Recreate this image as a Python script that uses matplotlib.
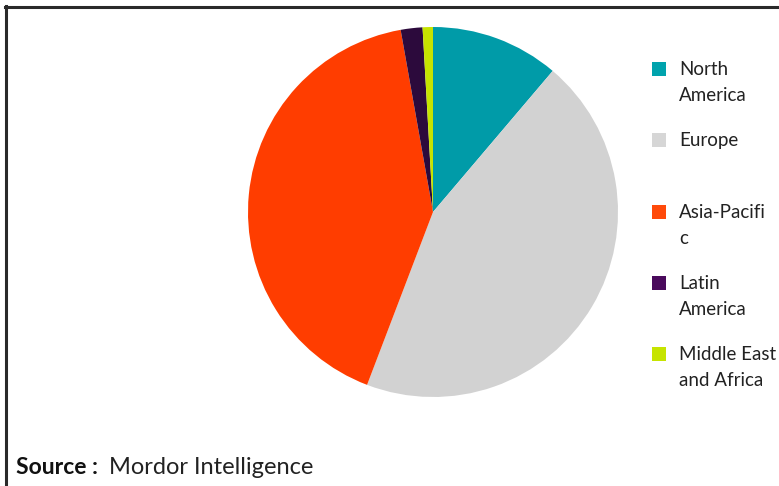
import matplotlib
matplotlib.use("Agg")
import matplotlib.pyplot as plt
from matplotlib.patches import Rectangle
from matplotlib.lines import Line2D

regions = ["North America", "Europe", "Asia-Pacific", "Latin America", "Middle East and Africa"]
legend_labels = ["North\nAmerica", "Europe", "Asia-Pacifi\nc", "Latin\nAmerica", "Middle East\nand Africa"]
shares = [11.2, 44.6, 41.4, 1.9, 0.9]
colors = ["#009BA8", "#D2D2D2", "#FF3D00", "#2C0A3C", "#C6E400"]
legend_colors = ["#00A3AD", "#D6D6D6", "#FF4A0A", "#4A0A5C", "#C6E400"]

plt.rcParams["font.family"] = ["Lato", "DejaVu Sans"]

W, H = 779, 486
fig = plt.figure(figsize=(W / 100, H / 100), dpi=100)

# pie area
cx, cy, r = 433, 212, 185
ax = fig.add_axes([(cx - r) / W, (H - cy - r) / H, 2 * r / W, 2 * r / H])
ax.pie(shares, colors=colors, startangle=90, counterclock=False,
       wedgeprops=dict(linewidth=0))
ax.set_xlim(-1, 1)
ax.set_ylim(-1, 1)
ax.set_aspect("auto")
ax.axis("off")

# frame lines (top and left)
fig.add_artist(Line2D([5 / W, 1], [1 - 7 / H, 1 - 7 / H], color="#2a2a2a", lw=2.2,
                      transform=fig.transFigure))
fig.add_artist(Line2D([6 / W, 6 / W], [0, 1 - 6 / H], color="#2a2a2a", lw=2.2,
                      transform=fig.transFigure))

# legend
ys = [69, 140, 212, 283, 354]
for lab, col, y in zip(legend_labels, legend_colors, ys):
    fig.add_artist(Rectangle((652 / W, 1 - (y + 7) / H), 14 / W, 14 / H,
                             facecolor=col, edgecolor="none", transform=fig.transFigure))
    fig.text(679 / W, 1 - (y - 8) / H, lab, fontsize=13.5, color="#222222",
             va="top", ha="left", linespacing=1.62)

# source line
fig.text(16 / W, 1 - 467 / H, "Source :", fontsize=16.5, fontweight="bold",
         color="#111111", va="center", ha="left")
fig.text(109 / W, 1 - 467 / H, "Mordor Intelligence", fontsize=17,
         color="#222222", va="center", ha="left")

fig.savefig("out.png", dpi=100, facecolor="white")
